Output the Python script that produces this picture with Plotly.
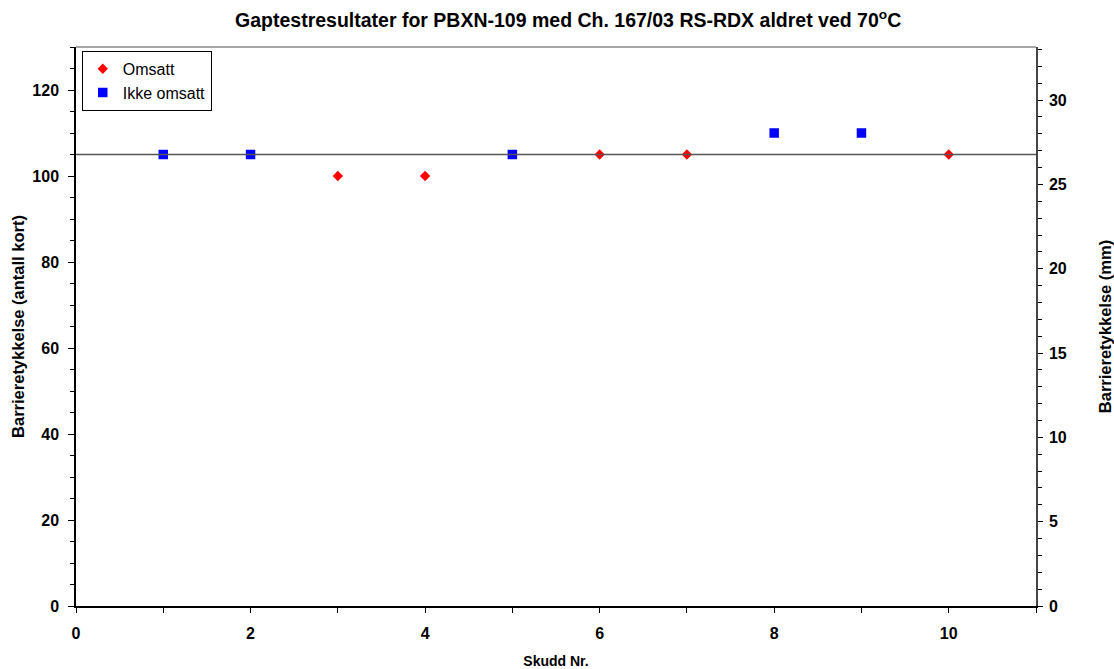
import plotly.graph_objects as go

omsatt_x = [3, 4, 6, 7, 10]
omsatt_y = [100, 100, 105, 105, 105]
ikke_x = [1, 2, 5, 8, 9]
ikke_y = [105, 105, 105, 110, 110]
ref_level = 105

x_ticks = [0, 2, 4, 6, 8, 10]
y_ticks = [0, 20, 40, 60, 80, 100, 120]
y2_ticks = [0, 5, 10, 15, 20, 25, 30]

FONT = "Liberation Sans, Arial, sans-serif"

def bold(vals):
    return ["<b>%s</b>" % v for v in vals]

fig = go.Figure()
fig.add_trace(go.Scatter(x=omsatt_x, y=omsatt_y, mode="markers", name="Omsatt",
                         marker=dict(symbol="diamond", size=8, color="#ff0000")))
fig.add_trace(go.Scatter(x=ikke_x, y=ikke_y, mode="markers", name="Ikke omsatt",
                         marker=dict(symbol="square", size=9.5, color="#0000ff")))
fig.add_trace(go.Scatter(x=[0], y=[0], yaxis="y2", mode="markers",
                         marker=dict(opacity=0), showlegend=False, hoverinfo="skip"))

fig.add_shape(type="line", xref="paper", x0=0, x1=1, yref="y", y0=ref_level, y1=ref_level,
              line=dict(color="#555555", width=1.5))
fig.add_shape(type="line", xref="paper", x0=0, x1=1, yref="paper", y0=1, y1=1,
              line=dict(color="#888888", width=1.5))

tickfont = dict(family=FONT, size=16, color="black")
xtitlefont = dict(family=FONT, size=14, color="black")
ytitlefont = dict(family=FONT, size=16.5, color="black")

fig.update_layout(
    width=1114, height=669,
    margin=dict(l=76, r=78, t=47, b=63, autoexpand=False),
    paper_bgcolor="white", plot_bgcolor="white",
    title=dict(text="<b>Gaptestresultater for PBXN-109 med Ch. 167/03 RS-RDX aldret ved 70<sup>o</sup>C</b>",
               font=dict(family=FONT, size=19.5, color="black"),
               x=0.51, xanchor="center", y=0.970, yanchor="middle"),
    showlegend=True,
    legend=dict(x=0.006, y=0.993, xanchor="left", yanchor="top",
                bordercolor="black", borderwidth=1, bgcolor="white",
                font=dict(family=FONT, size=16, color="black"),
                itemwidth=30, tracegroupgap=0),
    xaxis=dict(range=[0, 11], tickvals=x_ticks, ticktext=bold(x_ticks),
               showgrid=False, zeroline=False, automargin=False,
               showline=True, linecolor="black", linewidth=1.5,
               ticks="outside", ticklen=5, tickcolor="black", ticklabelstandoff=7,
               minor=dict(dtick=1, ticks="outside", ticklen=5, tickcolor="black", showgrid=False),
               tickfont=tickfont,
               title=dict(text="<b>Skudd Nr.</b>", font=xtitlefont, standoff=15)),
    yaxis=dict(range=[0, 130], tickvals=y_ticks, ticktext=bold(y_ticks),
               showgrid=False, zeroline=False, automargin=False,
               showline=True, linecolor="black", linewidth=1.5,
               ticks="outside", ticklen=6, tickcolor="black", ticklabelstandoff=6,
               minor=dict(dtick=5, ticks="outside", ticklen=4, tickcolor="black", showgrid=False),
               tickfont=tickfont,
               title=dict(text="<b>Barrieretykkelse (antall kort)</b>", font=ytitlefont, standoff=4)),
    yaxis2=dict(range=[0, 33.15], tickvals=y2_ticks, ticktext=bold(y2_ticks),
                overlaying="y", side="right",
                showgrid=False, zeroline=False, automargin=False,
                showline=True, linecolor="#444444", linewidth=1.5,
                ticks="outside", ticklen=5, tickcolor="black", ticklabelstandoff=3,
                minor=dict(dtick=1, ticks="outside", ticklen=4, tickcolor="black", showgrid=False),
                tickfont=tickfont,
                title=dict(text="<b>Barrieretykkelse (mm)</b>", font=ytitlefont, standoff=38)),
)

fig.write_html("out.html", config={"displayModeBar": False},
               post_script="document.body.style.margin='0';document.body.style.overflow='hidden';")
